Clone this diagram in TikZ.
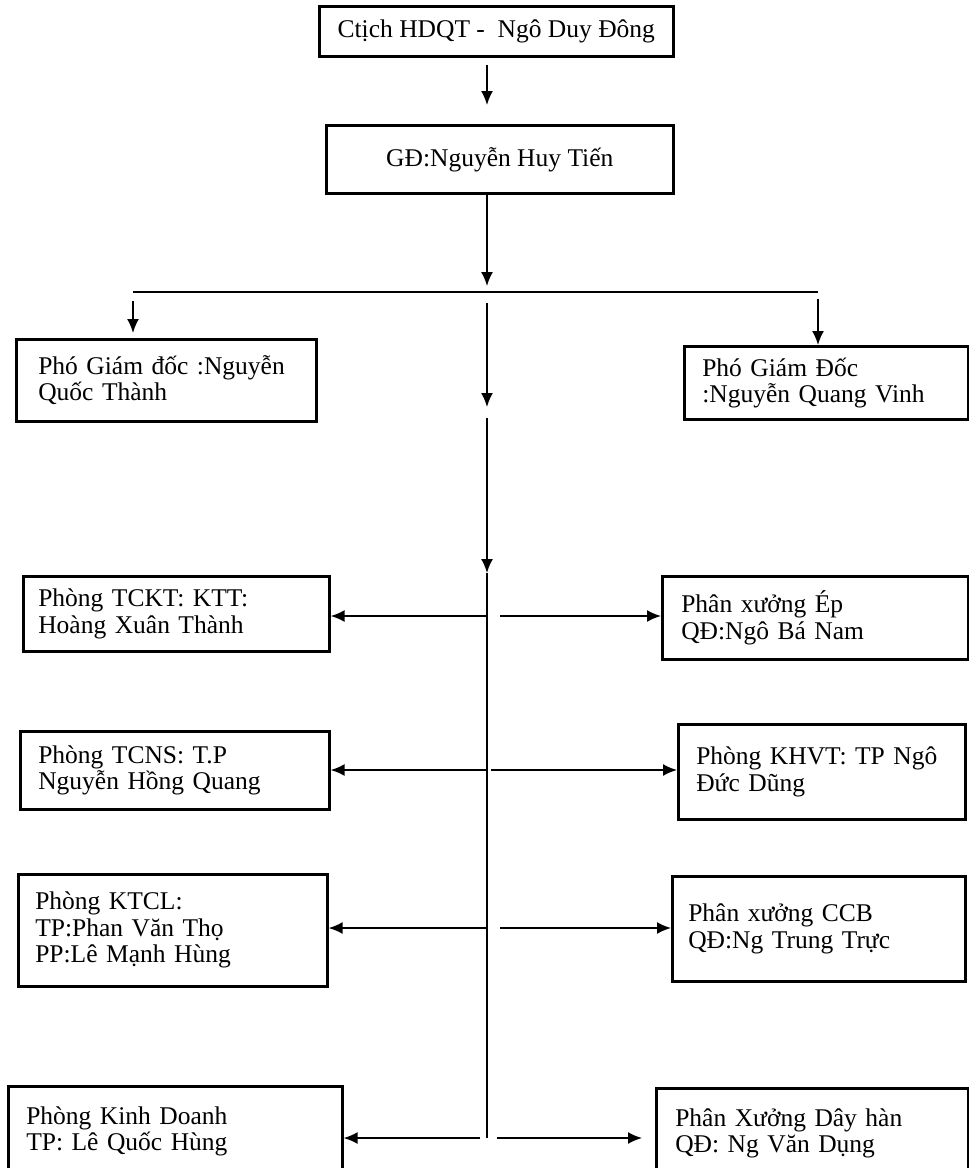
\documentclass[tikz,border=0pt]{standalone}
\usepackage{fontspec}
\setmainfont{Liberation Serif}
\usetikzlibrary{arrows.meta}

\begin{document}
\begin{tikzpicture}[x=1pt, y=-1pt, every node/.style={font=\fontsize{25.5}{26.5}\selectfont},
    khung/.style={draw, line width=2.6pt, anchor=north west, inner ysep=3pt},
    khungtrai/.style={khung, align=left, inner xsep=#1},
    muiten/.style={-{Latex[length=14pt,width=12pt]}, line width=1.8pt},
    duong/.style={line width=1.8pt}]
    \useasboundingbox (0,0) rectangle (969,1168);

    % ban lanh dao
    \node[khung, minimum width=354pt, minimum height=50pt] (chutich) at (318,5) {Ctịch HDQT - \ Ngô Duy Đông};
    \node[khung, minimum width=347pt, minimum height=68pt] (giamdoc) at (325,124) {GĐ:Nguyễn Huy Tiến};
    \node[khungtrai=22pt, text width=256pt, minimum width=300pt, minimum height=82pt] (pgd1) at (15,338) {Phó Giám đốc :Nguyễn\\Quốc Thành};
    \node[khungtrai=18pt, text width=248pt, minimum width=284pt, minimum height=73pt] (pgd2) at (683,345) {Phó Giám Đốc\\:Nguyễn Quang Vinh};

    % phong ban va phan xuong
    \node[khungtrai=15pt, text width=276pt, minimum width=306pt, minimum height=75pt] (tckt) at (22,575) {Phòng TCKT: KTT:\\Hoàng Xuân Thành};
    \node[khungtrai=19pt, text width=268pt, minimum width=306pt, minimum height=83pt] (xep) at (661,575) {Phân xưởng Ép\\QĐ:Ngô Bá Nam};
    \node[khungtrai=18pt, text width=273pt, minimum width=309pt, minimum height=78pt] (tcns) at (19,730) {Phòng TCNS: T.P\\Nguyễn Hồng Quang};
    \node[khungtrai=18pt, text width=251pt, minimum width=287pt, minimum height=95pt] (khvt) at (677,723) {Phòng KHVT: TP Ngô\\Đức Dũng};
    \node[khungtrai=17pt, text width=275pt, minimum width=309pt, minimum height=112pt] (ktcl) at (17,873) {Phòng KTCL:\\TP:Phan Văn Thọ\\PP:Lê Mạnh Hùng};
    \node[khungtrai=16pt, text width=261pt, minimum width=293pt, minimum height=105pt] (ccb) at (671,875) {Phân xưởng CCB\\QĐ:Ng Trung Trực};
    \node[khungtrai=18pt, text width=298pt, minimum width=334pt, minimum height=90pt] (kd) at (7,1085) {Phòng Kinh Doanh\\TP: Lê Quốc Hùng};
    \node[khungtrai=19pt, text width=274pt, minimum width=312pt, minimum height=90pt] (dayhan) at (655,1087) {Phân Xưởng Dây hàn\\QĐ: Ng Văn Dụng};

    % diem noi tren truc giua
    \coordinate (nga3) at (487,292);
    \coordinate (trai) at (133,292);
    \coordinate (phai) at (818,292);
    \coordinate (giua1) at (487,407);
    \coordinate (giua2) at (487,573);
    \coordinate (hang1) at (487,616);
    \coordinate (hang2) at (487,770);
    \coordinate (hang3) at (487,928);
    \coordinate (hang4) at (487,1138);

    \draw[muiten, shorten <=7pt, shorten >=19pt] (chutich.south -| nga3) -- (giamdoc.north -| nga3);
    \draw[muiten, shorten >=6pt] (giamdoc.south -| nga3) -- (nga3);
    \draw[duong, line width=2.4pt] (trai) -- (phai);
    \draw[muiten, shorten <=9pt, shorten >=5pt] (trai) -- (pgd1.north -| trai);
    \draw[muiten, shorten <=7pt] (phai) -- (pgd2.north -| phai);
    \draw[muiten, shorten <=11pt] (nga3) -- (giua1);
    \draw[muiten, shorten <=11pt] (giua1) -- (giua2);
    \draw[duong] (giua2) -- (hang4);

    \draw[muiten] (hang1) -- (hang1 -| tckt.east);
    \draw[muiten, shorten <=13pt] (hang1) -- (hang1 -| xep.west);
    \draw[muiten] (hang2) -- (hang2 -| tcns.east);
    \draw[muiten, shorten <=4pt] (hang2) -- (hang2 -| khvt.west);
    \draw[muiten] (hang3) -- (hang3 -| ktcl.east);
    \draw[muiten, shorten <=13pt] (hang3) -- (hang3 -| ccb.west);
    \draw[muiten, shorten <=7pt] (hang4) -- (hang4 -| kd.east);
    \draw[muiten, shorten <=10pt, shorten >=13pt] (hang4) -- (hang4 -| dayhan.west);
\end{tikzpicture}
\end{document}
